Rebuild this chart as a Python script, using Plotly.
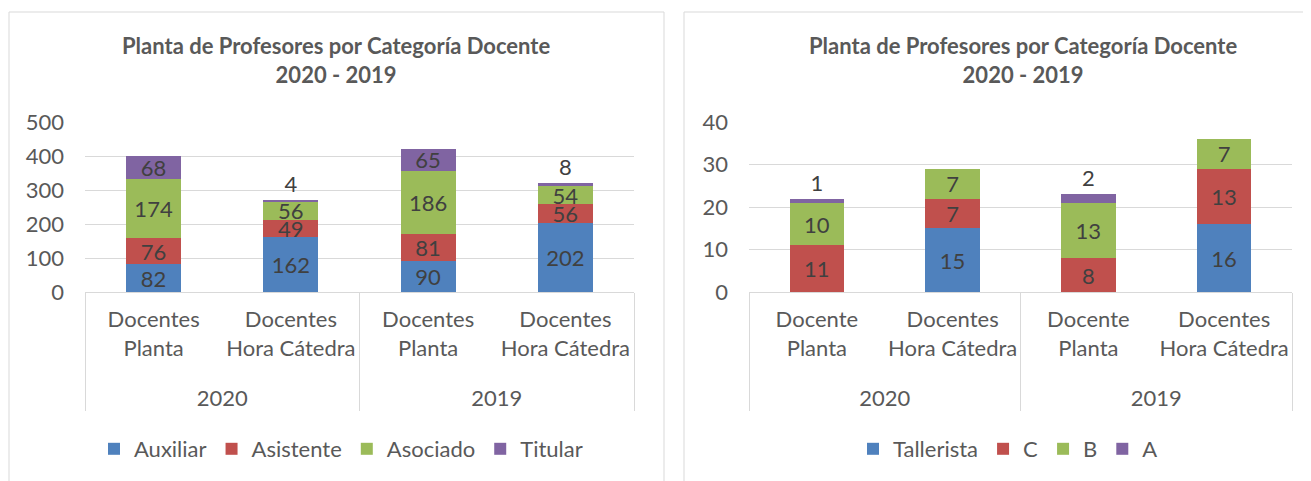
import plotly.graph_objects as go

W, H = 1311, 481
OFF = 8  # page body margin

years = ["2020", "2020", "2019", "2019"]
cats_left = ["Docentes<br>Planta<br> ", "Docentes<br>Hora Cátedra<br> ", "Docentes<br>Planta<br> ", "Docentes<br>Hora Cátedra<br> "]
cats_right = ["Docente<br>Planta<br> ", "Docentes<br>Hora Cátedra<br> ", "Docente<br>Planta<br> ", "Docentes<br>Hora Cátedra<br> "]

auxiliar = [82, 162, 90, 202]
asistente = [76, 49, 81, 56]
asociado = [174, 56, 186, 54]
titular = [68, 4, 65, 8]

tallerista = [None, 15, None, 16]
cat_c = [11, 7, 8, 13]
cat_b = [10, 7, 13, 7]
cat_a = [1, None, 2, None]

title_text = "<b>Planta de Profesores por Categoría Docente<br>2020 - 2019</b>"

BLUE, RED, GREEN, PURPLE = "#4F81BD", "#C0504D", "#9BBB59", "#8064A2"
FONT = "Lato"
TXT = "#404040"
LBL = "#595959"
GRID = "#D9D9D9"
FS = 22

fig = go.Figure()

def add(name, vals, color, xa, ya, legend, positions=None):
    fig.add_trace(go.Bar(
        x=[years, cats_left if xa == "x" else cats_right], y=vals, name=name,
        marker=dict(color=color, line=dict(width=0)),
        text=[("" if v is None else str(v)) for v in vals],
        textposition=positions if positions else "inside",
        insidetextanchor="middle", textangle=0,
        textfont=dict(color=TXT, size=FS, family=FONT),
        cliponaxis=False,
        xaxis=xa, yaxis=ya, legend=legend,
    ))

add("Auxiliar", auxiliar, BLUE, "x", "y", "legend")
add("Asistente", asistente, RED, "x", "y", "legend")
add("Asociado", asociado, GREEN, "x", "y", "legend")
add("Titular", titular, PURPLE, "x", "y", "legend",
    ["inside", "outside", "inside", "outside"])

add("Tallerista", tallerista, BLUE, "x2", "y2", "legend2")
add("C", cat_c, RED, "x2", "y2", "legend2")
add("B", cat_b, GREEN, "x2", "y2", "legend2")
add("A", cat_a, PURPLE, "x2", "y2", "legend2",
    ["outside", "inside", "outside", "inside"])

def px(x):
    return (x - OFF) / W

def py(y):
    return 1 - (y - OFF) / H

ydom = [py(292), py(122)]

xcommon = dict(type="multicategory", showgrid=False, showline=True, linecolor=GRID,
               linewidth=1, showdividers=True, dividercolor=GRID, dividerwidth=1,
               tickfont=dict(size=FS, color=LBL, family=FONT), ticks="",
               tickangle=0, ticklabelstandoff=8)
ycommon = dict(showgrid=True, gridcolor=GRID, gridwidth=1, zeroline=False, showline=False,
               tickfont=dict(size=FS, color=LBL, family=FONT), ticks="",
               ticklabelstandoff=20)

fig.update_layout(
    width=W, height=H,
    margin=dict(l=0, r=0, t=0, b=0, autoexpand=False),
    paper_bgcolor="white", plot_bgcolor="white",
    barmode="stack", bargap=0.6,
    font=dict(family=FONT, color=LBL),
    uniformtext=dict(minsize=FS, mode="show"),
    showlegend=True,
    xaxis=dict(domain=[px(85), px(634)], anchor="y", automargin=False, **xcommon),
    yaxis=dict(domain=ydom, anchor="x", range=[0, 500], dtick=100, automargin=False, **ycommon),
    xaxis2=dict(domain=[px(749), px(1292)], anchor="y2", automargin=False, **xcommon),
    yaxis2=dict(domain=ydom, anchor="x2", range=[0, 40], dtick=10, automargin=False, **ycommon),
    legend=dict(orientation="h", x=px(341), xanchor="center", y=py(449), yanchor="middle",
                font=dict(size=FS, color=LBL, family=FONT), traceorder="normal",
                itemwidth=30, bgcolor="rgba(0,0,0,0)"),
    legend2=dict(orientation="h", x=px(1008), xanchor="center", y=py(449), yanchor="middle",
                 font=dict(size=FS, color=LBL, family=FONT), traceorder="normal",
                 itemwidth=30, bgcolor="rgba(0,0,0,0)"),
    annotations=[
        dict(text=title_text, x=px(336), y=py(60), xref="paper", yref="paper",
             showarrow=False, xanchor="center", yanchor="middle",
             font=dict(size=22, color=LBL, family=FONT)),
        dict(text=title_text, x=px(1023), y=py(60), xref="paper", yref="paper",
             showarrow=False, xanchor="center", yanchor="middle",
             font=dict(size=22, color=LBL, family=FONT)),
    ],
    shapes=[
        dict(type="rect", xref="paper", yref="paper", x0=px(9), x1=px(664), y0=py(495), y1=py(12),
             line=dict(color=GRID, width=1)),
        dict(type="rect", xref="paper", yref="paper", x0=px(684), x1=px(1330), y0=py(495), y1=py(12),
             line=dict(color=GRID, width=1)),
    ],
)

fig.write_html("out.html")
